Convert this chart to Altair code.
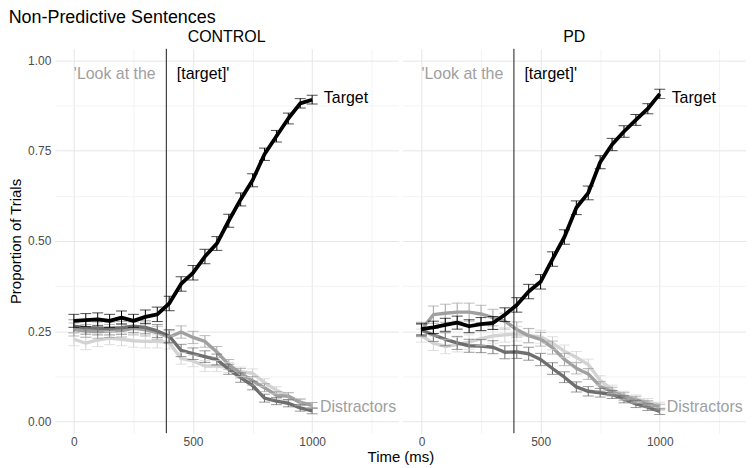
import altair as alt
import pandas as pd

# ---------------- data ----------------
time_ms = [0, 50, 100, 150, 200, 250, 300, 350, 400, 450, 500,
           550, 600, 650, 700, 750, 800, 850, 900, 950, 1000]

series_order = ["Distractor light", "Distractor mid", "Distractor dark", "Target"]
series_colors = ["#d3d3d3", "#a0a0a0", "#6e6e6e", "#000000"]
bar_colors = ["#cfcfcf", "#9a9a9a", "#686868", "#2b2b2b"]

# CONTROL
control_target = [0.279, 0.281, 0.283, 0.279, 0.288, 0.279, 0.290, 0.297, 0.327, 0.381, 0.412,
                  0.457, 0.493, 0.556, 0.615, 0.668, 0.740, 0.790, 0.839, 0.881, 0.891]
control_dark = [0.264, 0.260, 0.258, 0.258, 0.260, 0.264, 0.261, 0.251, 0.237, 0.197, 0.188,
                0.180, 0.172, 0.145, 0.122, 0.100, 0.065, 0.057, 0.051, 0.038, 0.030]
control_mid = [0.255, 0.251, 0.249, 0.251, 0.252, 0.258, 0.255, 0.246, 0.234, 0.248, 0.233,
               0.222, 0.193, 0.158, 0.134, 0.113, 0.094, 0.073, 0.070, 0.053, 0.045]
control_light = [0.228, 0.217, 0.226, 0.231, 0.228, 0.224, 0.222, 0.222, 0.219, 0.175, 0.168,
                 0.154, 0.154, 0.150, 0.138, 0.134, 0.108, 0.087, 0.071, 0.055, 0.045]

control_target_se = [0.018, 0.018, 0.018, 0.018, 0.018, 0.018, 0.019, 0.020, 0.020, 0.020, 0.020,
                     0.020, 0.019, 0.018, 0.018, 0.018, 0.017, 0.016, 0.015, 0.013, 0.012]
control_dark_se = [0.018, 0.018, 0.018, 0.018, 0.018, 0.018, 0.018, 0.018, 0.018, 0.017, 0.016,
                   0.016, 0.015, 0.014, 0.013, 0.012, 0.011, 0.010, 0.010, 0.009, 0.008]
control_mid_se = [0.018, 0.018, 0.018, 0.018, 0.018, 0.018, 0.018, 0.018, 0.018, 0.017, 0.017,
                  0.016, 0.015, 0.014, 0.013, 0.012, 0.011, 0.010, 0.010, 0.009, 0.008]
control_light_se = [0.018, 0.018, 0.018, 0.018, 0.018, 0.018, 0.018, 0.018, 0.018, 0.016, 0.016,
                    0.015, 0.015, 0.014, 0.013, 0.012, 0.011, 0.010, 0.010, 0.009, 0.008]

# PD
pd_target = [0.256, 0.261, 0.268, 0.274, 0.264, 0.270, 0.273, 0.296, 0.323, 0.360, 0.387,
             0.450, 0.511, 0.592, 0.633, 0.718, 0.767, 0.803, 0.835, 0.866, 0.907]
pd_dark = [0.253, 0.240, 0.228, 0.218, 0.210, 0.209, 0.206, 0.192, 0.193, 0.188, 0.172,
           0.147, 0.123, 0.096, 0.084, 0.080, 0.075, 0.062, 0.049, 0.040, 0.028]
pd_mid = [0.255, 0.296, 0.300, 0.303, 0.303, 0.298, 0.288, 0.278, 0.255, 0.238, 0.228,
          0.205, 0.172, 0.148, 0.132, 0.098, 0.083, 0.069, 0.060, 0.049, 0.040]
pd_light = [0.238, 0.217, 0.208, 0.213, 0.220, 0.230, 0.237, 0.240, 0.243, 0.238, 0.235,
            0.217, 0.195, 0.178, 0.158, 0.114, 0.089, 0.073, 0.064, 0.055, 0.046]

pd_target_se = [0.016, 0.017, 0.018, 0.018, 0.018, 0.018, 0.018, 0.019, 0.020, 0.020, 0.020,
                0.020, 0.020, 0.019, 0.019, 0.018, 0.017, 0.016, 0.015, 0.014, 0.013]
pd_dark_se = [0.016, 0.018, 0.018, 0.018, 0.018, 0.018, 0.018, 0.018, 0.018, 0.018, 0.017,
              0.016, 0.015, 0.014, 0.013, 0.012, 0.011, 0.010, 0.010, 0.009, 0.008]
pd_mid_se = [0.020, 0.024, 0.025, 0.025, 0.025, 0.024, 0.023, 0.022, 0.021, 0.020, 0.019,
             0.018, 0.017, 0.016, 0.015, 0.013, 0.012, 0.011, 0.010, 0.009, 0.008]
pd_light_se = [0.018, 0.020, 0.020, 0.020, 0.020, 0.020, 0.020, 0.020, 0.020, 0.019, 0.018,
               0.018, 0.017, 0.016, 0.015, 0.013, 0.012, 0.011, 0.010, 0.009, 0.008]

onset_ms = [388]

# annotation texts: label, time, value, colour
phrase_labels = ["'Look at the", "[target]'"]
phrase_times = [0, 432]
phrase_values = [0.962, 0.962]
phrase_colors = ["#a0a0a0", "#000000"]

control_end_labels = ["Target", "Distractors"]
control_end_times = [1049, 1033]
control_end_values = [0.897, 0.040]
pd_end_labels = ["Target", "Distractors"]
pd_end_times = [1050, 1029]
pd_end_values = [0.897, 0.040]
end_colors = ["#000000", "#a0a0a0"]

panel_names = ["CONTROL", "PD"]

# ---------------- chart ----------------
FONT = "Liberation Sans"
W, H = 345, 386
x_domain = [-80, 1362]
y_domain = [-0.032, 1.032]
x_values = [0, 250, 500, 750, 1000, 1250]
y_values = [0, 0.125, 0.25, 0.375, 0.5, 0.625, 0.75, 0.875, 1.0]

x_grid_color = {"condition": {"test": "datum.value % 500 === 0", "value": "#e6e6e6"},
                "value": "#f3f3f3"}
y_grid_color = {"condition": {"test": "round(datum.value * 1000) % 250 === 0", "value": "#e6e6e6"},
                "value": "#f3f3f3"}


def make_panel(name, vals, ses, end_labels, end_times, end_values, first):
    rows = []
    for s, v_list, e_list in zip(series_order, vals, ses):
        for t, v, e in zip(time_ms, v_list, e_list):
            rows.append({"time": t, "value": v, "lo": v - e, "hi": v + e, "series": s})
    df = pd.DataFrame(rows)
    df_d = df[df.series != "Target"]
    df_t = df[df.series == "Target"]

    if first:
        xaxis = alt.Axis(values=x_values, ticks=False, domain=False, labelFontSize=12,
                         labelColor="#4d4d4d", labelPadding=3, gridColor=x_grid_color,
                         format="d",
                         labelExpr="datum.value % 500 === 0 ? datum.label : ''",
                         title="Time (ms)", titleFontSize=15, titleFontWeight="normal",
                         titleColor="#000000", titlePadding=2, titleX=W + 2,
                         titleAlign="center")
        yaxis = alt.Axis(values=y_values, ticks=False, domain=False, labelFontSize=12,
                         labelColor="#4d4d4d", labelPadding=4, gridColor=y_grid_color,
                         labelExpr="round(datum.value * 1000) % 250 === 0 ? format(datum.value, '.2f') : ''",
                         title="Proportion of Trials", titleFontSize=15,
                         titleFontWeight="normal", titleColor="#000000", titlePadding=4)
    else:
        xaxis = alt.Axis(values=x_values, ticks=False, domain=False, labelFontSize=12,
                         labelColor="#4d4d4d", labelPadding=3, gridColor=x_grid_color,
                         format="d",
                         labelExpr="datum.value % 500 === 0 ? datum.label : ''",
                         title=None)
        yaxis = alt.Axis(values=y_values, ticks=False, domain=False, labels=False,
                         gridColor=y_grid_color, title=None)

    xs = alt.Scale(domain=x_domain, nice=False, zero=False)
    ys = alt.Scale(domain=y_domain, nice=False, zero=False)

    def X(f):
        return alt.X(f, type="quantitative", scale=xs, axis=xaxis)

    def Y(f):
        return alt.Y(f, type="quantitative", scale=ys, axis=yaxis)

    line_color = alt.Color("series:N", scale=alt.Scale(domain=series_order, range=series_colors),
                           legend=None)
    bar_color = alt.Color("series:N", scale=alt.Scale(domain=series_order, range=bar_colors),
                          legend=None)

    def lines(d, sw):
        return alt.Chart(d).mark_line(strokeWidth=sw, strokeJoin="round").encode(
            x=X("time"), y=Y("value"), color=line_color, order="time:Q")

    def bars(d):
        base = alt.Chart(d)
        r = base.mark_rule(strokeWidth=1).encode(x=X("time"), y=Y("lo"), y2="hi",
                                                  color=bar_color)
        c1 = base.mark_tick(orient="horizontal", size=11, thickness=1).encode(
            x=X("time"), y=Y("lo"), color=bar_color)
        c2 = base.mark_tick(orient="horizontal", size=11, thickness=1).encode(
            x=X("time"), y=Y("hi"), color=bar_color)
        return r + c1 + c2

    rule = alt.Chart(pd.DataFrame({"t": onset_ms})).mark_rule(
        color="#1a1a1a", strokeWidth=1).encode(x=X("t"))

    phr = pd.DataFrame({"label": phrase_labels, "time": phrase_times,
                        "value": phrase_values, "c": phrase_colors})
    ends = pd.DataFrame({"label": end_labels, "time": end_times,
                         "value": end_values, "c": end_colors})
    texts = alt.Chart(pd.concat([phr, ends])).mark_text(
        align="left", baseline="middle", fontSize=16, font=FONT).encode(
        x=X("time"), y=Y("value"), text="label:N",
        color=alt.Color("c:N", scale=None))

    layered = alt.layer(
        lines(df_d, 3.4), bars(df_d), rule, lines(df_t, 3.8), bars(df_t), texts
    ).properties(
        width=W, height=H,
        title=alt.TitleParams(name, fontSize=16, fontWeight="normal", anchor="middle",
                              offset=3, color="#000000", font=FONT),
    )
    return layered


p1 = make_panel(panel_names[0],
                [control_light, control_mid, control_dark, control_target],
                [control_light_se, control_mid_se, control_dark_se, control_target_se],
                control_end_labels, control_end_times, control_end_values, True)
p2 = make_panel(panel_names[1],
                [pd_light, pd_mid, pd_dark, pd_target],
                [pd_light_se, pd_mid_se, pd_dark_se, pd_target_se],
                pd_end_labels, pd_end_times, pd_end_values, False)

chart = alt.hconcat(p1, p2, spacing=4, bounds="flush").properties(
    title=alt.TitleParams("Non-Predictive Sentences", anchor="start", fontSize=18,
                          fontWeight="normal", color="#000000", offset=2, font=FONT,
                          frame="bounds"),
    padding=0,
).configure(font=FONT).configure_view(stroke=None).configure_axis(
    labelFont=FONT, titleFont=FONT, gridWidth=1)

chart.save("out.html", embed_options={"renderer": "svg", "actions": False})
